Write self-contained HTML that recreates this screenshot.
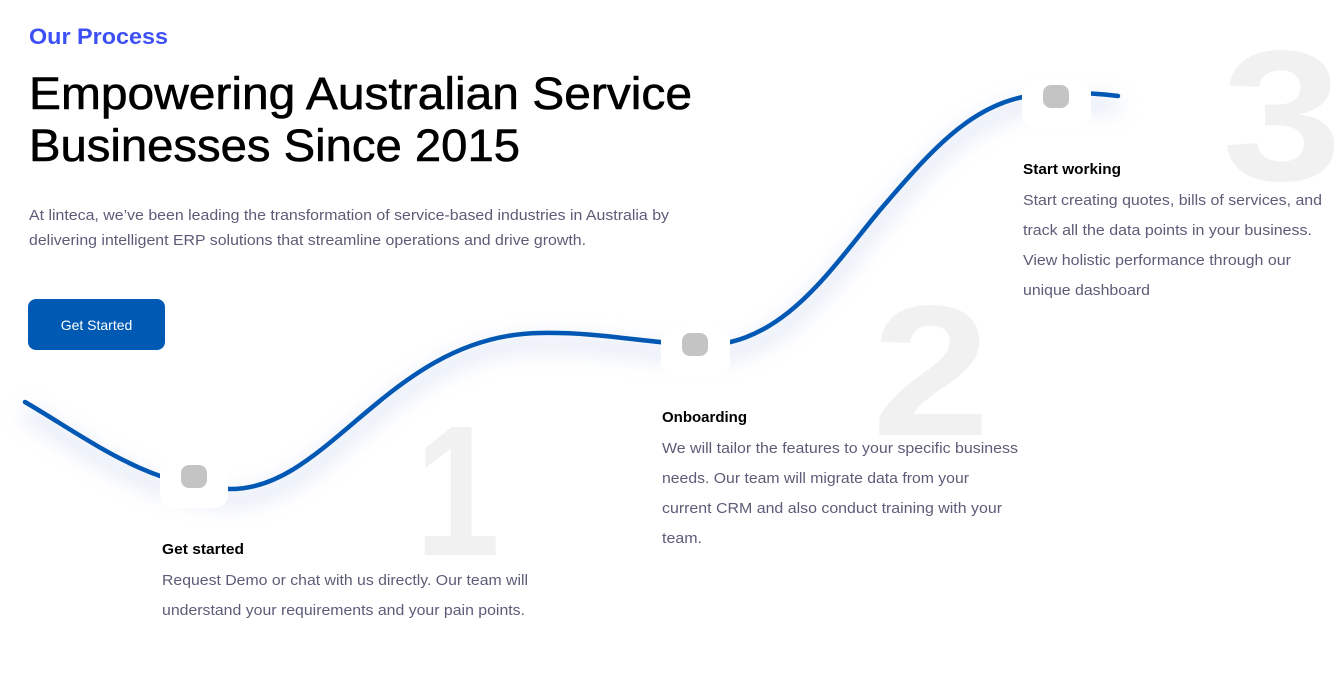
<!DOCTYPE html>
<html><head><meta charset="utf-8"><style>
html,body{margin:0;padding:0;background:#fff;width:1341px;height:684px;overflow:hidden}
svg{display:block}
text{font-family:"Liberation Sans",sans-serif}
</style></head><body>
<svg width="1341" height="684" viewBox="0 0 1341 684" xmlns="http://www.w3.org/2000/svg">
<defs>
<filter id="blur" x="-20%" y="-50%" width="140%" height="200%"><feGaussianBlur stdDeviation="10"/></filter>
</defs>
<g font-weight="bold" fill="#f1f1f1" font-size="186">
<text x="415" y="555" textLength="85" lengthAdjust="spacingAndGlyphs">1</text>
<text x="872" y="435" textLength="118" lengthAdjust="spacingAndGlyphs">2</text>
<text x="1222" y="180" textLength="120" lengthAdjust="spacingAndGlyphs">3</text>
</g>
<path d="M25,412 C90,450 150,498 230,499 C330,500 390,345 540,343 C600,342 640,352 695,355 C780,360 830,280 880,220 C940,150 980,105 1055,103 C1090,102 1110,105 1118,106" fill="none" stroke="#d3def0" stroke-width="14" filter="url(#blur)" opacity="0.7"/>
<path d="M25,402 C90,440 150,488 230,489 C330,490 390,335 540,333 C600,332 640,342 695,345 C780,350 830,270 880,210 C940,140 980,95 1055,93 C1090,92 1110,95 1118,96" fill="none" stroke="#0058b4" stroke-width="4.5" stroke-linecap="round"/>
<g>
<rect x="160" y="459" width="68" height="49" rx="13" fill="#fff"/>
<rect x="181" y="465" width="26" height="23" rx="8" fill="#c4c4c4"/>
<rect x="661" y="327" width="69" height="50" rx="13" fill="#fff"/>
<rect x="682" y="333" width="26" height="23" rx="8" fill="#c4c4c4"/>
<rect x="1022" y="79" width="69" height="49" rx="13" fill="#fff"/>
<rect x="1043" y="85" width="26" height="23" rx="8" fill="#c4c4c4"/>
</g>
<text x="29" y="44" font-size="22" font-weight="bold" fill="#3d50f5" textLength="139" lengthAdjust="spacingAndGlyphs">Our Process</text>
<text x="29" y="109" font-size="45" fill="#000" stroke="#000" stroke-width="0.6" textLength="663" lengthAdjust="spacingAndGlyphs">Empowering Australian Service</text>
<text x="29" y="161" font-size="45" fill="#000" stroke="#000" stroke-width="0.6" textLength="491" lengthAdjust="spacingAndGlyphs">Businesses Since 2015</text>
<g font-size="15" fill="#5c5c78">
<text x="29" y="220" textLength="640" lengthAdjust="spacingAndGlyphs">At linteca, we’ve been leading the transformation of service-based industries in Australia by</text>
<text x="29" y="245" textLength="557" lengthAdjust="spacingAndGlyphs">delivering intelligent ERP solutions that streamline operations and drive growth.</text>
</g>
<rect x="28" y="299" width="137" height="51" rx="8" fill="#0059b3"/>
<text x="96.5" y="330" font-size="14" fill="#fff" text-anchor="middle">Get Started</text>
<g font-size="15" font-weight="bold" fill="#000">
<text x="162" y="554" textLength="82" lengthAdjust="spacingAndGlyphs">Get started</text>
<text x="662" y="422" textLength="85" lengthAdjust="spacingAndGlyphs">Onboarding</text>
<text x="1023" y="174" textLength="98" lengthAdjust="spacingAndGlyphs">Start working</text>
</g>
<g font-size="15" fill="#5c5c78">
<text x="162" y="585" textLength="366" lengthAdjust="spacingAndGlyphs">Request Demo or chat with us directly. Our team will</text>
<text x="162" y="615" textLength="363" lengthAdjust="spacingAndGlyphs">understand your requirements and your pain points.</text>
<text x="662" y="453" textLength="356" lengthAdjust="spacingAndGlyphs">We will tailor the features to your specific business</text>
<text x="662" y="483" textLength="307" lengthAdjust="spacingAndGlyphs">needs. Our team will migrate data from your</text>
<text x="662" y="513" textLength="340" lengthAdjust="spacingAndGlyphs">current CRM and also conduct training with your</text>
<text x="662" y="543" textLength="40" lengthAdjust="spacingAndGlyphs">team.</text>
<text x="1023" y="205" textLength="299" lengthAdjust="spacingAndGlyphs">Start creating quotes, bills of services, and</text>
<text x="1023" y="235" textLength="289" lengthAdjust="spacingAndGlyphs">track all the data points in your business.</text>
<text x="1023" y="265" textLength="268" lengthAdjust="spacingAndGlyphs">View holistic performance through our</text>
<text x="1023" y="295" textLength="127" lengthAdjust="spacingAndGlyphs">unique dashboard</text>
</g>
</svg>
</body></html>
